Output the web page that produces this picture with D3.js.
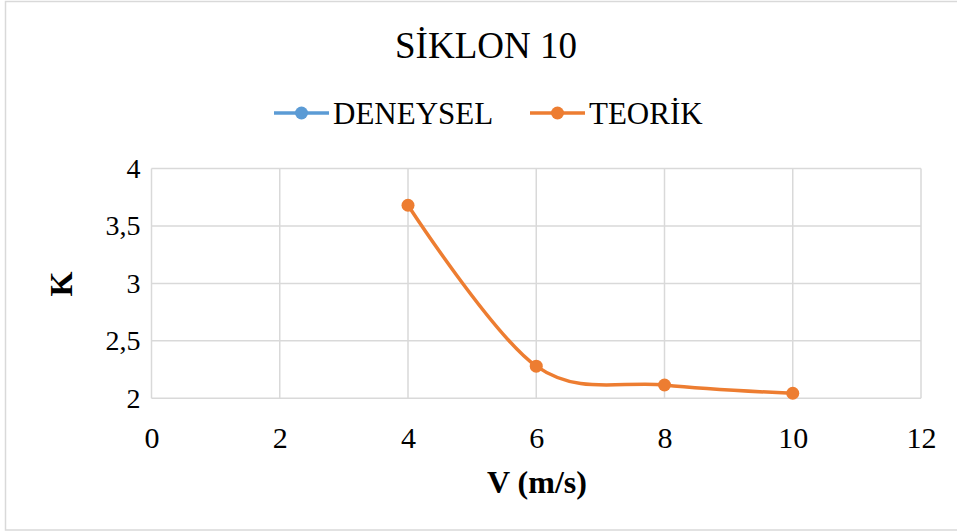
<!DOCTYPE html>
<html>
<head>
<meta charset="utf-8">
<script src="https://cdn.jsdelivr.net/npm/d3@7"></script>
<style>
  html, body { margin: 0; padding: 0; background: #fff; }
  svg { display: block; font-family: "Liberation Serif", "Times New Roman", serif; }
</style>
</head>
<body>
<div id="chart"></div>
<script>
// chart data
var title = "SİKLON 10";
var xLabel = "V (m/s)";
var yLabel = "K";
var seriesNames = ["DENEYSEL", "TEORİK"];
var seriesColors = ["#5b9bd5", "#ed7d31"];
var xTicks = [0, 2, 4, 6, 8, 10, 12];
var yTicks = [2, 2.5, 3, 3.5, 4];
var deneyselV = [];
var deneyselK = [];
var teorikV = [4, 6, 8, 10];
var teorikK = [3.68, 2.28, 2.116, 2.044];

var width = 957, height = 531;
var svg = d3.select("#chart").append("svg")
    .attr("width", width)
    .attr("height", height);

// outer chart border
svg.append("rect")
    .attr("x", 5.5).attr("y", 1.5)
    .attr("width", 960).attr("height", 528.5)
    .attr("fill", "#fff")
    .attr("stroke", "#d9d9d9")
    .attr("stroke-width", 1.5);

var x = d3.scaleLinear().domain([0, 12]).range([151.5, 921]);
var y = d3.scaleLinear().domain([2, 4]).range([398.3, 168.5]);

// gridlines
svg.append("g").selectAll("line")
    .data(yTicks)
    .enter().append("line")
    .attr("x1", x(0)).attr("x2", x(12))
    .attr("y1", function(d) { return y(d); })
    .attr("y2", function(d) { return y(d); })
    .attr("stroke", "#d9d9d9")
    .attr("stroke-width", 1.5);

svg.append("g").selectAll("line")
    .data(xTicks)
    .enter().append("line")
    .attr("y1", y(2)).attr("y2", y(4))
    .attr("x1", function(d) { return x(d); })
    .attr("x2", function(d) { return x(d); })
    .attr("stroke", "#d9d9d9")
    .attr("stroke-width", 1.5);

// axes tick labels
var xAxis = svg.append("g")
    .attr("transform", "translate(0," + y(2) + ")")
    .call(d3.axisBottom(x).tickValues(xTicks).tickSize(0).tickPadding(28)
        .tickFormat(function(d) { return String(d).replace(".", ","); }));
xAxis.select(".domain").remove();
xAxis.selectAll("text")
    .attr("font-family", "Liberation Serif")
    .attr("font-size", 30)
    .attr("dy", 0)
    .attr("y", 49.5)
    .attr("fill", "#000");

var yAxis = svg.append("g")
    .attr("transform", "translate(" + x(0) + ",0)")
    .call(d3.axisLeft(y).tickValues(yTicks).tickSize(0).tickPadding(11)
        .tickFormat(function(d) { return String(d).replace(".", ","); }));
yAxis.select(".domain").remove();
yAxis.selectAll("text")
    .attr("font-family", "Liberation Serif")
    .attr("font-size", 28)
    .attr("fill", "#000");

// title and axis titles
svg.append("text")
    .attr("x", 486).attr("y", 58)
    .attr("text-anchor", "middle")
    .attr("font-size", 37)
    .text(title);

svg.append("text")
    .attr("x", 537).attr("y", 493)
    .attr("text-anchor", "middle")
    .attr("font-size", 32)
    .attr("font-weight", "bold")
    .text(xLabel);

svg.append("text")
    .attr("transform", "translate(72,284) rotate(-90)")
    .attr("text-anchor", "middle")
    .attr("font-size", 32)
    .attr("font-weight", "bold")
    .text(yLabel);

// legend
var legendX = [274, 530];
var legend = svg.append("g").selectAll("g")
    .data(seriesNames)
    .enter().append("g")
    .attr("transform", function(d, i) { return "translate(" + legendX[i] + ",113)"; });
legend.append("line")
    .attr("x1", 0).attr("x2", 55)
    .attr("stroke", function(d, i) { return seriesColors[i]; })
    .attr("stroke-width", 3.5);
legend.append("circle")
    .attr("cx", 27.5).attr("r", 6.5)
    .attr("fill", function(d, i) { return seriesColors[i]; });
legend.append("text")
    .attr("x", 59).attr("y", 10.5)
    .attr("font-size", 31)
    .text(function(d) { return d; });

// series
var line = d3.line()
    .x(function(d) { return x(d[0]); })
    .y(function(d) { return y(d[1]); })
    .curve(d3.curveCardinal.tension(0));

var series = [
    d3.zip(deneyselV, deneyselK),
    d3.zip(teorikV, teorikK)
];

series.forEach(function(pts, i) {
    if (!pts.length) return;
    svg.append("path")
        .datum(pts)
        .attr("d", line)
        .attr("fill", "none")
        .attr("stroke", seriesColors[i])
        .attr("stroke-width", 3.5)
        .attr("stroke-linecap", "round");
    svg.append("g").selectAll("circle")
        .data(pts)
        .enter().append("circle")
        .attr("cx", function(d) { return x(d[0]); })
        .attr("cy", function(d) { return y(d[1]); })
        .attr("r", 6.5)
        .attr("fill", seriesColors[i]);
});
</script>
</body>
</html>
